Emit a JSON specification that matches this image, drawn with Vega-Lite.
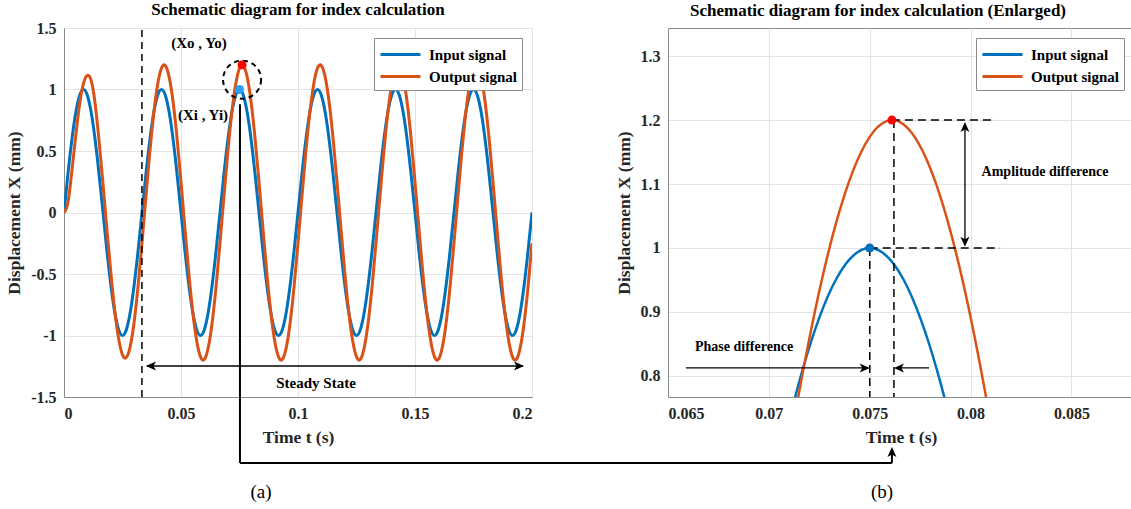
{
  "$schema": "https://vega.github.io/schema/vega-lite/v6.json",
  "background": "white",
  "padding": {"left": 5, "top": 0, "right": 0, "bottom": 0},
  "bounds": "flush",
  "spacing": 136,
  "config": {
    "font": "Liberation Serif",
    "view": {"stroke": "#8a8a8a", "strokeWidth": 1},
    "axis": {
      "labelFont": "Liberation Serif", "labelFontWeight": "bold", "labelFontSize": 16, "labelColor": "#262626",
      "titleFont": "Liberation Serif", "titleFontWeight": "bold", "titleFontSize": 17.5, "titleColor": "#262626",
      "gridColor": "#e3e3e3", "gridWidth": 1, "domainColor": "#8a8a8a", "ticks": false, "labelPadding": 8, "titlePadding": 7
    },
    "legend": {
      "labelFont": "Liberation Serif", "labelFontWeight": "bold", "labelFontSize": 15, "labelColor": "#000000",
      "symbolType": "M-2,0H2", "symbolSize": 400, "symbolStrokeWidth": 3, "symbolOffset": 10, "strokeColor": "#8a8a8a", "fillColor": "white",
      "padding": 5, "rowPadding": 2, "labelOffset": 17
    },
    "title": {"font": "Liberation Serif", "fontSize": 17, "fontWeight": "bold", "color": "#000000", "offset": 1}
  },
  "resolve": {"scale": {"color": "independent"}, "legend": {"color": "independent"}},
  "datasets": {
    "sig": [
      {"t":0,"Input signal":0,"Output signal":0},
      {"t":0.001667,"Input signal":0.309,"Output signal":0.08},
      {"t":0.003333,"Input signal":0.5878,"Output signal":0.33},
      {"t":0.005,"Input signal":0.809,"Output signal":0.62},
      {"t":0.006667,"Input signal":0.9511,"Output signal":0.88},
      {"t":0.008333,"Input signal":1,"Output signal":1.05},
      {"t":0.01,"Input signal":0.9511,"Output signal":1.115},
      {"t":0.011667,"Input signal":0.809,"Output signal":1.07},
      {"t":0.013333,"Input signal":0.5878,"Output signal":0.88},
      {"t":0.015,"Input signal":0.309,"Output signal":0.58},
      {"t":0.016667,"Input signal":0,"Output signal":0.235},
      {"t":0.018333,"Input signal":-0.309,"Output signal":-0.135},
      {"t":0.02,"Input signal":-0.5878,"Output signal":-0.485},
      {"t":0.021667,"Input signal":-0.809,"Output signal":-0.795},
      {"t":0.023333,"Input signal":-0.9511,"Output signal":-1.025},
      {"t":0.025,"Input signal":-1,"Output signal":-1.158},
      {"t":0.026667,"Input signal":-0.9511,"Output signal":-1.178},
      {"t":0.028333,"Input signal":-0.809,"Output signal":-1.085},
      {"t":0.03,"Input signal":-0.5878,"Output signal":-0.886},
      {"t":0.031667,"Input signal":-0.309,"Output signal":-0.597},
      {"t":0.033333,"Input signal":0,"Output signal":-0.2495},
      {"t":0.035,"Input signal":0.309,"Output signal":0.1254},
      {"t":0.036667,"Input signal":0.5878,"Output signal":0.4881},
      {"t":0.038333,"Input signal":0.809,"Output signal":0.803},
      {"t":0.04,"Input signal":0.9511,"Output signal":1.0392},
      {"t":0.041667,"Input signal":1,"Output signal":1.1738},
      {"t":0.043333,"Input signal":0.9511,"Output signal":1.1934},
      {"t":0.045,"Input signal":0.809,"Output signal":1.0963},
      {"t":0.046667,"Input signal":0.5878,"Output signal":0.8918},
      {"t":0.048333,"Input signal":0.309,"Output signal":0.6},
      {"t":0.05,"Input signal":0,"Output signal":0.2495},
      {"t":0.051667,"Input signal":-0.309,"Output signal":-0.1254},
      {"t":0.053333,"Input signal":-0.5878,"Output signal":-0.4881},
      {"t":0.055,"Input signal":-0.809,"Output signal":-0.803},
      {"t":0.056667,"Input signal":-0.9511,"Output signal":-1.0392},
      {"t":0.058333,"Input signal":-1,"Output signal":-1.1738},
      {"t":0.06,"Input signal":-0.9511,"Output signal":-1.1934},
      {"t":0.061667,"Input signal":-0.809,"Output signal":-1.0963},
      {"t":0.063333,"Input signal":-0.5878,"Output signal":-0.8918},
      {"t":0.065,"Input signal":-0.309,"Output signal":-0.6},
      {"t":0.066667,"Input signal":0,"Output signal":-0.2495},
      {"t":0.068333,"Input signal":0.309,"Output signal":0.1254},
      {"t":0.07,"Input signal":0.5878,"Output signal":0.4881},
      {"t":0.071667,"Input signal":0.809,"Output signal":0.803},
      {"t":0.073333,"Input signal":0.9511,"Output signal":1.0392},
      {"t":0.075,"Input signal":1,"Output signal":1.1738},
      {"t":0.076667,"Input signal":0.9511,"Output signal":1.1934},
      {"t":0.078333,"Input signal":0.809,"Output signal":1.0963},
      {"t":0.08,"Input signal":0.5878,"Output signal":0.8918},
      {"t":0.081667,"Input signal":0.309,"Output signal":0.6},
      {"t":0.083333,"Input signal":0,"Output signal":0.2495},
      {"t":0.085,"Input signal":-0.309,"Output signal":-0.1254},
      {"t":0.086667,"Input signal":-0.5878,"Output signal":-0.4881},
      {"t":0.088333,"Input signal":-0.809,"Output signal":-0.803},
      {"t":0.09,"Input signal":-0.9511,"Output signal":-1.0392},
      {"t":0.091667,"Input signal":-1,"Output signal":-1.1738},
      {"t":0.093333,"Input signal":-0.9511,"Output signal":-1.1934},
      {"t":0.095,"Input signal":-0.809,"Output signal":-1.0963},
      {"t":0.096667,"Input signal":-0.5878,"Output signal":-0.8918},
      {"t":0.098333,"Input signal":-0.309,"Output signal":-0.6},
      {"t":0.1,"Input signal":0,"Output signal":-0.2495},
      {"t":0.101667,"Input signal":0.309,"Output signal":0.1254},
      {"t":0.103333,"Input signal":0.5878,"Output signal":0.4881},
      {"t":0.105,"Input signal":0.809,"Output signal":0.803},
      {"t":0.106667,"Input signal":0.9511,"Output signal":1.0392},
      {"t":0.108333,"Input signal":1,"Output signal":1.1738},
      {"t":0.11,"Input signal":0.9511,"Output signal":1.1934},
      {"t":0.111667,"Input signal":0.809,"Output signal":1.0963},
      {"t":0.113333,"Input signal":0.5878,"Output signal":0.8918},
      {"t":0.115,"Input signal":0.309,"Output signal":0.6},
      {"t":0.116667,"Input signal":0,"Output signal":0.2495},
      {"t":0.118333,"Input signal":-0.309,"Output signal":-0.1254},
      {"t":0.12,"Input signal":-0.5878,"Output signal":-0.4881},
      {"t":0.121667,"Input signal":-0.809,"Output signal":-0.803},
      {"t":0.123333,"Input signal":-0.9511,"Output signal":-1.0392},
      {"t":0.125,"Input signal":-1,"Output signal":-1.1738},
      {"t":0.126667,"Input signal":-0.9511,"Output signal":-1.1934},
      {"t":0.128333,"Input signal":-0.809,"Output signal":-1.0963},
      {"t":0.13,"Input signal":-0.5878,"Output signal":-0.8918},
      {"t":0.131667,"Input signal":-0.309,"Output signal":-0.6},
      {"t":0.133333,"Input signal":0,"Output signal":-0.2495},
      {"t":0.135,"Input signal":0.309,"Output signal":0.1254},
      {"t":0.136667,"Input signal":0.5878,"Output signal":0.4881},
      {"t":0.138333,"Input signal":0.809,"Output signal":0.803},
      {"t":0.14,"Input signal":0.9511,"Output signal":1.0392},
      {"t":0.141667,"Input signal":1,"Output signal":1.1738},
      {"t":0.143333,"Input signal":0.9511,"Output signal":1.1934},
      {"t":0.145,"Input signal":0.809,"Output signal":1.0963},
      {"t":0.146667,"Input signal":0.5878,"Output signal":0.8918},
      {"t":0.148333,"Input signal":0.309,"Output signal":0.6},
      {"t":0.15,"Input signal":0,"Output signal":0.2495},
      {"t":0.151667,"Input signal":-0.309,"Output signal":-0.1254},
      {"t":0.153333,"Input signal":-0.5878,"Output signal":-0.4881},
      {"t":0.155,"Input signal":-0.809,"Output signal":-0.803},
      {"t":0.156667,"Input signal":-0.9511,"Output signal":-1.0392},
      {"t":0.158333,"Input signal":-1,"Output signal":-1.1738},
      {"t":0.16,"Input signal":-0.9511,"Output signal":-1.1934},
      {"t":0.161667,"Input signal":-0.809,"Output signal":-1.0963},
      {"t":0.163333,"Input signal":-0.5878,"Output signal":-0.8918},
      {"t":0.165,"Input signal":-0.309,"Output signal":-0.6},
      {"t":0.166667,"Input signal":0,"Output signal":-0.2495},
      {"t":0.168333,"Input signal":0.309,"Output signal":0.1254},
      {"t":0.17,"Input signal":0.5878,"Output signal":0.4881},
      {"t":0.171667,"Input signal":0.809,"Output signal":0.803},
      {"t":0.173333,"Input signal":0.9511,"Output signal":1.0392},
      {"t":0.175,"Input signal":1,"Output signal":1.1738},
      {"t":0.176667,"Input signal":0.9511,"Output signal":1.1934},
      {"t":0.178333,"Input signal":0.809,"Output signal":1.0963},
      {"t":0.18,"Input signal":0.5878,"Output signal":0.8918},
      {"t":0.181667,"Input signal":0.309,"Output signal":0.6},
      {"t":0.183333,"Input signal":0,"Output signal":0.2495},
      {"t":0.185,"Input signal":-0.309,"Output signal":-0.1254},
      {"t":0.186667,"Input signal":-0.5878,"Output signal":-0.4881},
      {"t":0.188333,"Input signal":-0.809,"Output signal":-0.803},
      {"t":0.19,"Input signal":-0.9511,"Output signal":-1.0392},
      {"t":0.191667,"Input signal":-1,"Output signal":-1.1738},
      {"t":0.193333,"Input signal":-0.9511,"Output signal":-1.1934},
      {"t":0.195,"Input signal":-0.809,"Output signal":-1.0963},
      {"t":0.196667,"Input signal":-0.5878,"Output signal":-0.8918},
      {"t":0.198333,"Input signal":-0.309,"Output signal":-0.6},
      {"t":0.2,"Input signal":0,"Output signal":-0.2495}
    ]
  },
  "hconcat": [
    {
      "width": 468,
      "height": 369,
      "title": {"text": "Schematic diagram for index calculation"},
      "layer": [
        {
          "data": {"name": "sig"},
          "transform": [{"fold": ["Input signal", "Output signal"], "as": ["signal", "val"]}],
          "mark": {"type": "line", "interpolate": "natural", "strokeWidth": 3, "clip": true},
          "encoding": {
            "x": {"field": "t", "type": "quantitative", "scale": {"domain": [0, 0.2], "nice": false, "zero": false},
                  "axis": {"values": [0, 0.05, 0.1, 0.15, 0.2], "title": "Time t (s)", "labelExpr": "'' + datum.value"}},
            "y": {"field": "val", "type": "quantitative", "scale": {"domain": [-1.5, 1.5], "nice": false, "zero": false},
                  "axis": {"values": [-1.5, -1, -0.5, 0, 0.5, 1, 1.5], "title": "Displacement X (mm)", "labelExpr": "'' + datum.value"}},
            "color": {"field": "signal", "type": "nominal",
                      "scale": {"domain": ["Input signal", "Output signal"], "range": ["#0072BD", "#D95319"]},
                      "legend": {"title": null, "orient": "top-right", "offset": 10}}
          }
        },
        {
          "data": {"values": [{"t": 0.0333, "v": -1.5, "t2": 0.0333, "v2": 1.5}]},
          "mark": {"type": "rule", "strokeDash": [7, 5], "strokeWidth": 1.5, "color": "#000000"},
          "encoding": {
            "x": {"field": "t", "type": "quantitative"}, "x2": {"field": "t2"},
            "y": {"field": "v", "type": "quantitative"}, "y2": {"field": "v2"}
          }
        },
        {
          "data": {"values": [{"t": 0.0355, "v": -1.248, "t2": 0.1962, "v2": -1.248}]},
          "mark": {"type": "rule", "strokeWidth": 1.3, "color": "#000000"},
          "encoding": {
            "x": {"field": "t", "type": "quantitative"}, "x2": {"field": "t2"},
            "y": {"field": "v", "type": "quantitative"}, "y2": {"field": "v2"}
          }
        },
        {
          "data": {"values": [
            {"t": 0.0752, "v": 0.88, "t2": 0.0752, "v2": -2.037},
            {"t": 0.0752, "v": -2.037, "t2": 0.35385, "v2": -2.037}
          ]},
          "mark": {"type": "rule", "strokeWidth": 2, "color": "#000000", "clip": false},
          "encoding": {
            "x": {"field": "t", "type": "quantitative"}, "x2": {"field": "t2"},
            "y": {"field": "v", "type": "quantitative"}, "y2": {"field": "v2"}
          }
        },
        {
          "data": {"values": [{"t": 0.035, "v": -1.248}]},
          "mark": {"type": "point", "shape": "M0,0L-1,-0.45L-0.75,0L-1,0.45Z", "size": 400, "filled": true, "opacity": 1, "color": "#000000", "angle": 180},
          "encoding": {"x": {"field": "t", "type": "quantitative"}, "y": {"field": "v", "type": "quantitative"}}
        },
        {
          "data": {"values": [{"t": 0.1966, "v": -1.248}]},
          "mark": {"type": "point", "shape": "M0,0L-1,-0.45L-0.75,0L-1,0.45Z", "size": 400, "filled": true, "opacity": 1, "color": "#000000", "angle": 0},
          "encoding": {"x": {"field": "t", "type": "quantitative"}, "y": {"field": "v", "type": "quantitative"}}
        },
        {
          "data": {"values": [{"t": 0.0761, "v": 1.08}]},
          "mark": {"type": "point", "shape": "circle", "size": 1450, "filled": false, "stroke": "#000000", "strokeWidth": 2, "strokeDash": [5, 4], "opacity": 1},
          "encoding": {"x": {"field": "t", "type": "quantitative"}, "y": {"field": "v", "type": "quantitative"}}
        },
        {
          "data": {"values": [{"t": 0.0761, "v": 1.2}]},
          "mark": {"type": "point", "shape": "circle", "size": 80, "filled": true, "color": "#FF0000", "opacity": 1},
          "encoding": {"x": {"field": "t", "type": "quantitative"}, "y": {"field": "v", "type": "quantitative"}}
        },
        {
          "data": {"values": [{"t": 0.075, "v": 1.0}]},
          "mark": {"type": "point", "shape": "circle", "size": 80, "filled": true, "color": "#2A9DF4", "opacity": 1},
          "encoding": {"x": {"field": "t", "type": "quantitative"}, "y": {"field": "v", "type": "quantitative"}}
        },
        {
          "data": {"values": [
            {"t": 0.0577, "v": 1.38, "label": "(Xo , Yo)"},
            {"t": 0.0594, "v": 0.792, "label": "(Xi , Yi)"},
            {"t": 0.1077, "v": -1.386, "label": "Steady State"}
          ]},
          "mark": {"type": "text", "font": "Liberation Serif", "fontWeight": "bold", "fontSize": 15, "color": "#000000", "align": "center", "baseline": "middle"},
          "encoding": {"x": {"field": "t", "type": "quantitative"}, "y": {"field": "v", "type": "quantitative"}, "text": {"field": "label"}}
        },
        {
          "data": {"values": [{"t": 0.0842, "v": -2.272, "label": "(a)"}]},
          "mark": {"type": "text", "font": "Liberation Serif", "fontSize": 19, "color": "#000000", "align": "center", "baseline": "middle"},
          "encoding": {"x": {"field": "t", "type": "quantitative"}, "y": {"field": "v", "type": "quantitative"}, "text": {"field": "label"}}
        }
      ]
    },
    {
      "width": 466,
      "height": 369,
      "title": {"text": "Schematic diagram for index calculation (Enlarged)", "dx": -23, "dy": -7},
      "layer": [
        {
          "data": {"name": "sig"},
          "transform": [{"fold": ["Input signal", "Output signal"], "as": ["signal", "val"]}],
          "mark": {"type": "line", "interpolate": "natural", "strokeWidth": 2.5, "clip": true},
          "encoding": {
            "x": {"field": "t", "type": "quantitative", "scale": {"domain": [0.065, 0.0881], "nice": false, "zero": false},
                  "axis": {"values": [0.065, 0.07, 0.075, 0.08, 0.085], "title": "Time t (s)", "labelExpr": "'' + datum.value"}},
            "y": {"field": "val", "type": "quantitative", "scale": {"domain": [0.767, 1.344], "nice": false, "zero": false},
                  "axis": {"values": [0.8, 0.9, 1, 1.1, 1.2, 1.3], "title": "Displacement X (mm)", "labelExpr": "'' + datum.value"}},
            "color": {"field": "signal", "type": "nominal",
                      "scale": {"domain": ["Input signal", "Output signal"], "range": ["#0072BD", "#D95319"]},
                      "legend": {"title": null, "orient": "top-right", "offset": 10}}
          }
        },
        {
          "data": {"values": [
            {"t": 0.0761, "v": 1.2, "t2": 0.08126, "v2": 1.2},
            {"t": 0.075, "v": 1.0, "t2": 0.08146, "v2": 1.0},
            {"t": 0.075, "v": 1.0, "t2": 0.075, "v2": 0.767},
            {"t": 0.0762, "v": 1.2, "t2": 0.0762, "v2": 0.767}
          ]},
          "mark": {"type": "rule", "strokeDash": [8, 5], "strokeWidth": 1.5, "color": "#000000"},
          "encoding": {
            "x": {"field": "t", "type": "quantitative"}, "x2": {"field": "t2"},
            "y": {"field": "v", "type": "quantitative"}, "y2": {"field": "v2"}
          }
        },
        {
          "data": {"values": [
            {"t": 0.07972, "v": 1.19, "t2": 0.07972, "v2": 1.01},
            {"t": 0.06589, "v": 0.8125, "t2": 0.0749, "v2": 0.8125},
            {"t": 0.07794, "v": 0.8125, "t2": 0.0763, "v2": 0.8125}
          ]},
          "mark": {"type": "rule", "strokeWidth": 1.3, "color": "#000000"},
          "encoding": {
            "x": {"field": "t", "type": "quantitative"}, "x2": {"field": "t2"},
            "y": {"field": "v", "type": "quantitative"}, "y2": {"field": "v2"}
          }
        },
        {
          "data": {"values": [{"t": 0.0761, "v": 0.664, "t2": 0.0761, "v2": 0.68}]},
          "mark": {"type": "rule", "strokeWidth": 2, "color": "#000000", "clip": false},
          "encoding": {
            "x": {"field": "t", "type": "quantitative"}, "x2": {"field": "t2"},
            "y": {"field": "v", "type": "quantitative"}, "y2": {"field": "v2"}
          }
        },
        {
          "data": {"values": [{"t": 0.07972, "v": 1.197}, {"t": 0.0761, "v": 0.689}]},
          "mark": {"type": "point", "shape": "M0,0L-1,-0.45L-0.75,0L-1,0.45Z", "size": 400, "filled": true, "opacity": 1, "color": "#000000", "angle": 270},
          "encoding": {"x": {"field": "t", "type": "quantitative"}, "y": {"field": "v", "type": "quantitative"}}
        },
        {
          "data": {"values": [{"t": 0.07972, "v": 1.002}]},
          "mark": {"type": "point", "shape": "M0,0L-1,-0.45L-0.75,0L-1,0.45Z", "size": 400, "filled": true, "opacity": 1, "color": "#000000", "angle": 90},
          "encoding": {"x": {"field": "t", "type": "quantitative"}, "y": {"field": "v", "type": "quantitative"}}
        },
        {
          "data": {"values": [{"t": 0.075, "v": 0.8125}]},
          "mark": {"type": "point", "shape": "M0,0L-1,-0.45L-0.75,0L-1,0.45Z", "size": 400, "filled": true, "opacity": 1, "color": "#000000", "angle": 0},
          "encoding": {"x": {"field": "t", "type": "quantitative"}, "y": {"field": "v", "type": "quantitative"}}
        },
        {
          "data": {"values": [{"t": 0.0762, "v": 0.8125}]},
          "mark": {"type": "point", "shape": "M0,0L-1,-0.45L-0.75,0L-1,0.45Z", "size": 400, "filled": true, "opacity": 1, "color": "#000000", "angle": 180},
          "encoding": {"x": {"field": "t", "type": "quantitative"}, "y": {"field": "v", "type": "quantitative"}}
        },
        {
          "data": {"values": [{"t": 0.0761, "v": 1.2}]},
          "mark": {"type": "point", "shape": "circle", "size": 80, "filled": true, "color": "#FF0000", "opacity": 1},
          "encoding": {"x": {"field": "t", "type": "quantitative"}, "y": {"field": "v", "type": "quantitative"}}
        },
        {
          "data": {"values": [{"t": 0.075, "v": 1.0}]},
          "mark": {"type": "point", "shape": "circle", "size": 80, "filled": true, "color": "#0072BD", "opacity": 1},
          "encoding": {"x": {"field": "t", "type": "quantitative"}, "y": {"field": "v", "type": "quantitative"}}
        },
        {
          "data": {"values": [
            {"t": 0.08369, "v": 1.119, "label": "Amplitude difference"},
            {"t": 0.06877, "v": 0.845, "label": "Phase difference"}
          ]},
          "mark": {"type": "text", "font": "Liberation Serif", "fontWeight": "bold", "fontSize": 14, "color": "#000000", "align": "center", "baseline": "middle"},
          "encoding": {"x": {"field": "t", "type": "quantitative"}, "y": {"field": "v", "type": "quantitative"}, "text": {"field": "label"}}
        },
        {
          "data": {"values": [{"t": 0.07561, "v": 0.619, "label": "(b)"}]},
          "mark": {"type": "text", "font": "Liberation Serif", "fontSize": 19, "color": "#000000", "align": "center", "baseline": "middle"},
          "encoding": {"x": {"field": "t", "type": "quantitative"}, "y": {"field": "v", "type": "quantitative"}, "text": {"field": "label"}}
        }
      ]
    }
  ]
}
